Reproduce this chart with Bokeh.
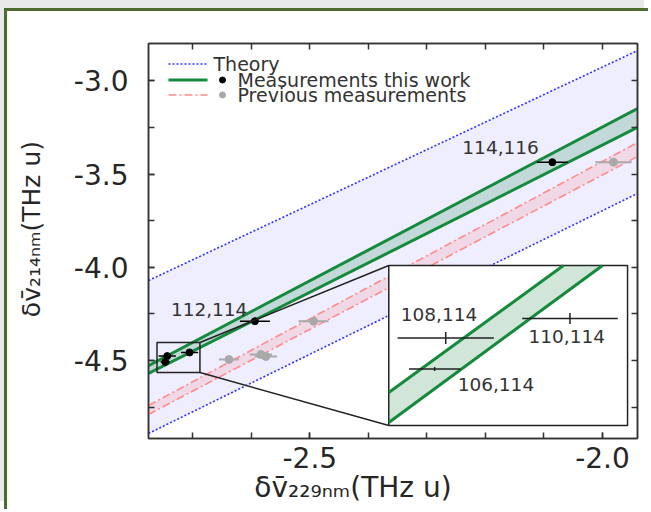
import numpy as np
from bokeh.plotting import figure
from bokeh.models import Range1d, LinearAxis, FixedTicker, ColumnDataSource, PrintfTickFormatter
from bokeh.core.properties import value
from bokeh.embed import file_html
from bokeh.resources import INLINE

# ---------------- data ----------------
x_range = (-2.7757, -1.9401)
y_range = (-4.918, -2.800)
x_major_ticks = [-2.5, -2.0]
x_all_ticks = [-2.7, -2.6, -2.5, -2.4, -2.3, -2.2, -2.1, -2.0]
y_major_ticks = [-4.5, -4.0, -3.5, -3.0]
y_all_ticks = [-4.75, -4.5, -4.25, -4.0, -3.75, -3.5, -3.25, -3.0]
x_title = "\u03b4v\u0304\u2082\u2082\u2089\u2099\u2098(THz u)"
y_title = "\u03b4v\u0304\u2082\u2081\u2084\u2099\u2098(THz u)"

# bands: value of each boundary line at band_x
band_x = [-2.7757, -1.9401]
theory_upper = [-4.071, -2.838]
theory_lower = [-4.891, -3.604]
this_work_upper = [-4.527, -3.149]
this_work_lower = [-4.569, -3.250]
previous_upper = [-4.741, -3.331]
previous_lower = [-4.789, -3.406]

# isotope pairs
pairs = ["106,114", "108,114", "110,114", "112,114", "114,116"]
this_x = [-2.7471, -2.7437, -2.7055, -2.5939, -2.0856]
this_y = [-4.5073, -4.4762, -4.4565, -4.2890, -3.4365]
this_xerr = [0.0079, 0.0148, 0.0147, 0.0256, 0.0265]
this_yerr = [0.0020, 0.0060, 0.0055, 0.0040, 0.0040]
prev_x = [-2.6383, -2.5837, -2.5751, -2.4937, -1.9810]
prev_y = [-4.4944, -4.4676, -4.4783, -4.2890, -3.4365]
prev_xerr = [0.017, 0.019, 0.019, 0.0256, 0.031]

# inset (zoom on the 106/108/110 region)
inset_x_range = (-2.7612, -2.6878)
inset_y_range = (-4.5641, -4.4032)
inset_box_x = (-2.3651, -1.9571)
inset_box_y = (-4.8483, -3.9903)
inset_upper_x = [-2.7612, -2.7075]
inset_upper_y = [-4.5309, -4.4032]
inset_lower_x = [-2.7612, -2.6955]
inset_lower_y = [-4.5611, -4.4032]

# ---------------- styles ----------------
FONT = "DejaVu Sans"
TXT = "#262626"
FRAME = "#333333"
BLUE = "#3030ff"
GREEN = "#168a3c"
PINK = "#ff8a8a"
GREY = "#a9a9a9"
NB = "\u00a0"

W, H = 644, 501
ML, MR, MT, MB = 141, 14, 32, 74
FRAME_LEFT, FRAME_TOP = 148, 43          # page position of the frame
FRAME_W, FRAME_H = W - ML - MR, H - MT - MB


def px_x(px):
    return x_range[0] + (px - FRAME_LEFT) / FRAME_W * (x_range[1] - x_range[0])


def px_y(py):
    return y_range[1] - (py - FRAME_TOP) / FRAME_H * (y_range[1] - y_range[0])


p = figure(width=W, height=H, x_range=Range1d(*x_range), y_range=Range1d(*y_range),
           x_axis_type=None, y_axis_type=None,
           output_backend="svg", toolbar_location=None,
           min_border_left=ML, min_border_right=MR, min_border_top=MT, min_border_bottom=MB,
           background_fill_color="white", border_fill_color="white",
           styles={"margin-left": "4px", "margin-top": "8px",
                   "border-left": "3px solid #4d6b2e", "border-top": "3px solid #4d6b2e",
                   "box-shadow": "-4px -8px 0 0 #e9e9e9"})
p.outline_line_color = FRAME
p.outline_line_width = 1.5


def make_axis(major, allt, labels):
    ax = LinearAxis(ticker=FixedTicker(ticks=major if labels else [], minor_ticks=allt),
                    formatter=PrintfTickFormatter(format="%.1f"))
    ax.major_tick_in = 6
    ax.major_tick_out = 0
    ax.minor_tick_in = 6
    ax.minor_tick_out = 0
    for a in ("axis_line", "major_tick_line", "minor_tick_line"):
        setattr(ax, a + "_color", FRAME)
        setattr(ax, a + "_width", 1.5)
    ax.major_label_text_font = FONT
    ax.major_label_text_font_size = "28px"
    ax.major_label_text_color = TXT
    ax.axis_label_text_font = FONT
    ax.axis_label_text_font_style = "normal"
    ax.axis_label_text_color = TXT
    return ax


xb = make_axis(x_major_ticks, x_all_ticks, True)
xb.major_label_standoff = 8
xb.axis_label = x_title + NB * 9
xb.axis_label_text_font_size = "28px"
xb.axis_label_standoff = 0
p.add_layout(xb, "below")
yl = make_axis(y_major_ticks, y_all_ticks, True)
yl.major_label_standoff = 20
yl.axis_label = NB * 3 + y_title
yl.axis_label_text_font_size = "25px"
yl.axis_label_standoff = 25
p.add_layout(yl, "left")
xa = make_axis(x_major_ticks, x_all_ticks, False)
xa.major_label_standoff = 0
p.add_layout(xa, "above")
yr = make_axis(y_major_ticks, y_all_ticks, False)
yr.major_label_standoff = 0
p.add_layout(yr, "right")

# ---------------- bands ----------------
p.varea(x=band_x, y1=theory_lower, y2=theory_upper, fill_color="#0000ff", fill_alpha=0.065)
p.varea(x=band_x, y1=previous_lower, y2=previous_upper, fill_color="#ff8080", fill_alpha=0.2)
p.varea(x=band_x, y1=this_work_lower, y2=this_work_upper, fill_color="#1a8040", fill_alpha=0.2)
for yy in (theory_upper, theory_lower):
    p.line(band_x, yy, line_color=BLUE, line_width=1.6, line_dash="2 2")
for yy in (previous_upper, previous_lower):
    p.line(band_x, yy, line_color=PINK, line_width=1.6, line_dash="8 3 2 3")
for yy in (this_work_upper, this_work_lower):
    p.line(band_x, yy, line_color=GREEN, line_width=3)

# ---------------- points ----------------
tx = np.array(this_x); ty = np.array(this_y)
txe = np.array(this_xerr); tye = np.array(this_yerr)
px_ = np.array(prev_x); py_ = np.array(prev_y); pxe = np.array(prev_xerr)

p.segment(x0=px_ - pxe, x1=px_ + pxe, y0=py_, y1=py_, line_color=GREY, line_width=2)
p.scatter(px_, py_, size=8, marker="circle", fill_color=GREY, line_color=GREY)
p.segment(x0=tx - txe, x1=tx + txe, y0=ty, y1=ty, line_color="black", line_width=1.5)
p.scatter(tx, ty, size=7, marker="circle", fill_color="black", line_color="black")

main_src = ColumnDataSource(dict(x=tx[3:], y=ty[3:], t=pairs[3:],
                                 dx=[-84, -90], dy=[-12, -15]))
p.text(x="x", y="y", text="t", x_offset="dx", y_offset="dy", source=main_src,
       text_font=value(FONT), text_font_size="18.5px", text_color="#333333",
       text_align="left", text_baseline="middle")

# ---------------- zoom box, connectors, inset ----------------
p.quad(left=[inset_x_range[0]], right=[inset_x_range[1]],
       bottom=[inset_y_range[0]], top=[inset_y_range[1]],
       fill_color=None, line_color="#222222", line_width=1.5)
p.segment(x0=[inset_x_range[1], inset_x_range[1]], y0=[inset_y_range[1], inset_y_range[0]],
          x1=[inset_box_x[0], inset_box_x[0]], y1=[inset_box_y[1], inset_box_y[0]],
          line_color="#222222", line_width=1.5)
p.quad(left=[inset_box_x[0]], right=[inset_box_x[1]],
       bottom=[inset_box_y[0]], top=[inset_box_y[1]],
       fill_color="white", line_color="#222222", line_width=1.5)

sub = p.subplot(x_source=Range1d(*inset_x_range), y_source=Range1d(*inset_y_range),
                x_target=Range1d(*inset_box_x), y_target=Range1d(*inset_box_y))
sub.patch(x=inset_upper_x + inset_lower_x[::-1], y=inset_upper_y + inset_lower_y[::-1],
          fill_color="#1a8040", fill_alpha=0.2, line_color=None)
sub.line(inset_upper_x, inset_upper_y, line_color=GREEN, line_width=3)
sub.line(inset_lower_x, inset_lower_y, line_color=GREEN, line_width=3)
sub.segment(x0=tx[:3] - txe[:3], x1=tx[:3] + txe[:3], y0=ty[:3], y1=ty[:3],
            line_color="#222222", line_width=1.5)
sub.segment(x0=tx[:3], x1=tx[:3], y0=ty[:3] - tye[:3], y1=ty[:3] + tye[:3],
            line_color="#222222", line_width=1.5)
inset_src = ColumnDataSource(dict(x=tx[:3], y=ty[:3], t=pairs[:3],
                                  dx=[23, -45, -41.5], dy=[15, -24, 18]))
sub.text(x="x", y="y", text="t", x_offset="dx", y_offset="dy", source=inset_src,
         text_font=value(FONT), text_font_size="18.5px", text_color="#333333",
         text_align="left", text_baseline="middle")

# ---------------- legend (manual) ----------------
leg_rows = [63.5, 79.5, 94.5]
leg_line_x = [px_x(168), px_x(207)]
p.line(leg_line_x, [px_y(leg_rows[0])] * 2, line_color=BLUE, line_width=1.6, line_dash="2 2")
p.line(leg_line_x, [px_y(leg_rows[1])] * 2, line_color=GREEN, line_width=3)
p.line(leg_line_x, [px_y(leg_rows[2])] * 2, line_color=PINK, line_width=1.6, line_dash="8 3 2 3")
p.scatter([px_x(222)], [px_y(leg_rows[1])], size=6, fill_color="black", line_color="black")
p.scatter([px_x(222)], [px_y(leg_rows[2])], size=6, fill_color=GREY, line_color=GREY)
leg_src = ColumnDataSource(dict(
    x=[px_x(213), px_x(237), px_x(237)], y=[px_y(r) for r in leg_rows],
    t=["Theory", "Measurements this work", "Previous measurements"]))
p.text(x="x", y="y", text="t", source=leg_src, text_font=value(FONT),
       text_font_size="19px", text_color="#333333", text_align="left", text_baseline="middle")

open("out.html", "w").write(file_html(p, INLINE))
